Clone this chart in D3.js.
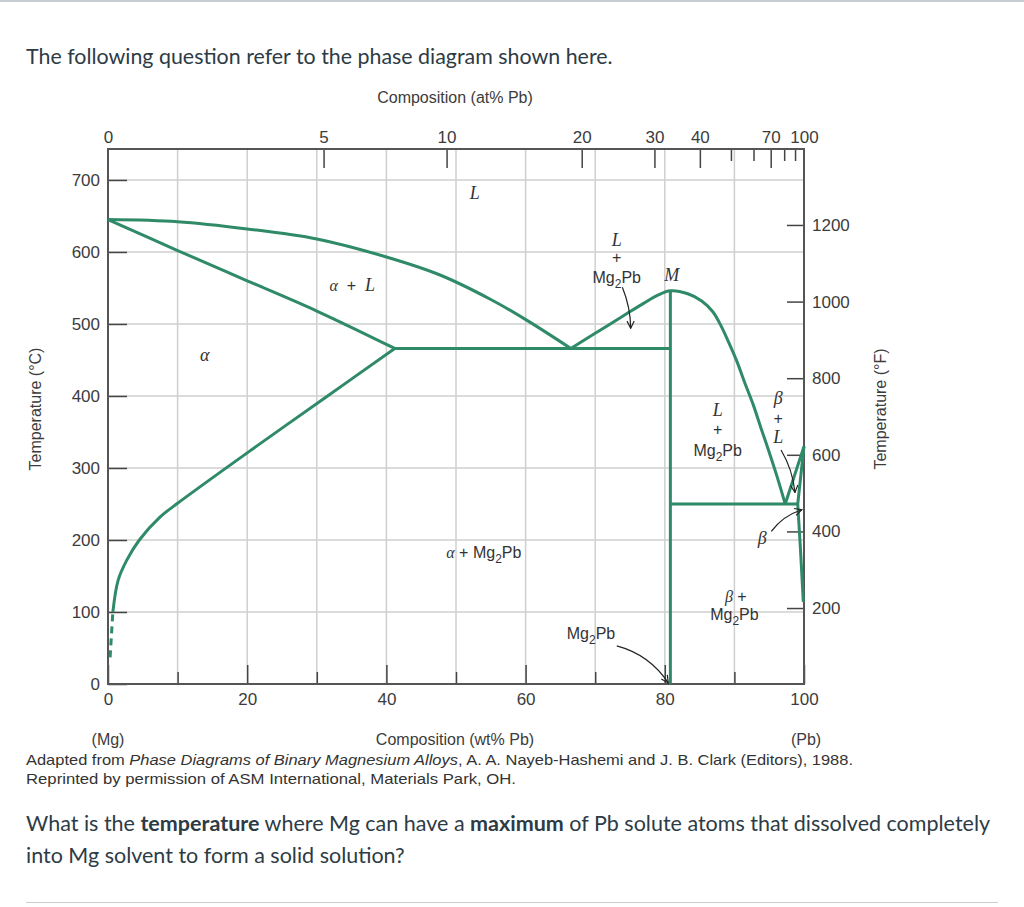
<!DOCTYPE html>
<html>
<head>
<meta charset="utf-8">
<script src="https://cdn.jsdelivr.net/npm/d3@7"></script>
<style>
body { margin: 0; background: #fff; }
</style>
</head>
<body>
<div class="container"></div>
<script>
const WIDTH = 1024;
const HEIGHT = 907;
const GREEN = "#2f8a68";
const INK = "#3c3c3c";
const CHART_FONT = "'Liberation Sans', Arial, sans-serif";
const SERIF = "'Liberation Serif', 'DejaVu Serif', serif";

// phase boundaries, [wt% Pb, temperature °C]
var liquidusMg = [[0, 645], [10, 642], [20, 632], [30, 618], [40, 593], [47.7, 568], [55, 534], [60.2, 505], [66.5, 466]];
var solidusMg = [[0, 645], [10, 602], [20, 560], [30, 518], [41.2, 466]];
var solvusMg = [[0.7, 100], [1.45, 144], [2.7, 172], [4.5, 200], [7.5, 232], [10, 251], [20, 321], [31.4, 399], [41.2, 466]];
var solvusMgDashed = [[0.3, 37], [0.7, 100]];
var liquidusMg2Pb = [[66.5, 466], [70, 487], [74, 511], [77, 529], [79, 540], [80.8, 546], [83.3, 542], [85.3, 532], [86.9, 517], [88.1, 497], [89.2, 474], [90.4, 447], [91.5, 418], [92.7, 388], [93.8, 356], [95, 322], [96.1, 289], [97.3, 250]];
var compoundMg2Pb = [[80.8, 0], [80.8, 546]];
var eutecticMg = [[41.2, 466], [80.8, 466]];
var eutecticPb = [[80.8, 250], [99.1, 250]];
var liquidusPb = [[97.3, 250], [100, 330]];
var solidusPb = [[100, 330], [99.1, 250]];
var solvusPb = [[99.1, 250], [99.5, 186], [99.9, 114]];

// axes
var tempTicksC = [0, 100, 200, 300, 400, 500, 600, 700];
var gridTemps = [100, 200, 300, 400, 500, 600, 700];
var wtMajor = [0, 20, 40, 60, 80, 100];
var wtMinor = [10, 30, 50, 70, 90];
var gridWt = [10, 20, 30, 40, 50, 60, 70, 80, 90];
var atLabels = [0, 5, 10, 20, 30, 40, 70, 100];
var atShort = [50, 60, 80, 90];
var fTicks = [200, 400, 600, 800, 1000, 1200];
var fCalib = [200, 1200];       // °F ticks as placed on the printed figure
var fCalibC = [105.5, 637.5];   // ... and the °C heights they sit at

var svg, x, y, xAt, yF;

var atToWt = function(a){
	var pb = a * 207.2, mg = (100 - a) * 24.305;
	return 100 * pb / (pb + mg);
}

var loadChart = function(){
	svg = d3.select(".container").append("svg")
		.attr("width", WIDTH)
		.attr("height", HEIGHT);

	x = d3.scaleLinear().domain([0, 100]).range([108, 804]);
	y = d3.scaleLinear().domain([0, 743]).range([684, 149]);
	var atGrid = d3.range(0, 101);
	xAt = d3.scaleLinear().domain(atGrid).range(atGrid.map(function(a){ return x(atToWt(a)); }));
	yF = d3.scaleLinear().domain(fCalib).range(fCalibC.map(y));

	drawPage();
	drawGrid();
	drawAxes();
	drawPhases();
	drawLabels();
	drawArrows();
}

var drawPage = function(){
	svg.append("rect").attr("x", 0).attr("y", 0).attr("width", WIDTH).attr("height", 2).attr("fill", "#c7cdd1");
	svg.append("rect").attr("x", 26).attr("y", 902).attr("width", 972).attr("height", 1).attr("fill", "#c7cdd1");

	svg.append("text")
		.attr("x", 26).attr("y", 64)
		.style("font-family", "Lato, sans-serif").style("font-size", "21.4px").attr("fill", "#2d3b45")
		.text("The following question refer to the phase diagram shown here.");

	var q1 = svg.append("text")
		.attr("x", 26).attr("y", 831)
		.style("font-family", "Lato, sans-serif").style("font-size", "21.5px").attr("fill", "#2d3b45");
	q1.append("tspan").text("What is the ");
	q1.append("tspan").style("font-weight", "bold").text("temperature");
	q1.append("tspan").text(" where Mg can have a ");
	q1.append("tspan").style("font-weight", "bold").text("maximum");
	q1.append("tspan").text(" of Pb solute atoms that dissolved completely");

	svg.append("text")
		.attr("x", 26).attr("y", 863)
		.style("font-family", "Lato, sans-serif").style("font-size", "21.5px").attr("fill", "#2d3b45")
		.text("into Mg solvent to form a solid solution?");

	var c1 = svg.append("text")
		.attr("x", 26).attr("y", 765)
		.attr("textLength", 827).attr("lengthAdjust", "spacingAndGlyphs")
		.style("font-family", CHART_FONT).style("font-size", "15px").attr("fill", "#333");
	c1.append("tspan").text("Adapted from ");
	c1.append("tspan").style("font-style", "italic").text("Phase Diagrams of Binary Magnesium Alloys");
	c1.append("tspan").text(", A. A. Nayeb-Hashemi and J. B. Clark (Editors), 1988.");

	svg.append("text")
		.attr("x", 26).attr("y", 784)
		.attr("textLength", 490).attr("lengthAdjust", "spacingAndGlyphs")
		.style("font-family", CHART_FONT).style("font-size", "15px").attr("fill", "#333")
		.text("Reprinted by permission of ASM International, Materials Park, OH.");
}

var drawGrid = function(){
	var grid = svg.append("g").attr("stroke", "#cfcfcf").attr("stroke-width", 1.5);
	grid.selectAll(".gv").data(gridWt).enter().append("line")
		.attr("x1", function(d){ return x(d); }).attr("x2", function(d){ return x(d); })
		.attr("y1", y(743)).attr("y2", y(0));
	grid.selectAll(".gh").data(gridTemps).enter().append("line")
		.attr("x1", x(0)).attr("x2", x(100))
		.attr("y1", function(d){ return y(d); }).attr("y2", function(d){ return y(d); });
}

var styleAxis = function(g){
	g.select(".domain").remove();
	g.selectAll(".tick line").attr("stroke", "#444").attr("stroke-width", 1.5);
	g.selectAll(".tick text").attr("fill", INK).style("font-family", CHART_FONT).style("font-size", "17px");
}

var drawAxes = function(){
	svg.append("g").attr("transform", "translate(" + x(0) + ",0)")
		.call(d3.axisLeft(y).tickValues(tempTicksC).tickSize(-19).tickPadding(8))
		.call(styleAxis);

	svg.append("g").attr("transform", "translate(0," + y(0) + ")")
		.call(d3.axisBottom(x).tickValues(wtMajor).tickSize(-19).tickPadding(9))
		.call(styleAxis);
	svg.append("g").attr("transform", "translate(0," + y(0) + ")")
		.call(d3.axisBottom(x).tickValues(wtMinor).tickSize(-12).tickFormat(""))
		.call(styleAxis);

	var top = svg.append("g").attr("transform", "translate(0," + y(743) + ")")
		.call(d3.axisTop(xAt).tickValues(atLabels).tickSize(-19).tickPadding(6))
		.call(styleAxis);
	top.selectAll(".tick").filter(function(d){ return d === 0 || d === 100; }).select("line").remove();
	svg.append("g").attr("transform", "translate(0," + y(743) + ")")
		.call(d3.axisTop(xAt).tickValues(atShort).tickSize(-12).tickFormat(""))
		.call(styleAxis);

	svg.append("g").attr("transform", "translate(" + x(100) + ",0)")
		.call(d3.axisRight(yF).tickValues(fTicks).tickSize(-17).tickPadding(8).tickFormat(d3.format("d")))
		.call(styleAxis);

	svg.append("rect")
		.attr("x", x(0)).attr("y", y(743))
		.attr("width", x(100) - x(0)).attr("height", y(0) - y(743))
		.attr("fill", "none").attr("stroke", "#555").attr("stroke-width", 2);

	// axis titles
	svg.append("text").attr("x", 455).attr("y", 103).attr("text-anchor", "middle")
		.style("font-family", CHART_FONT).style("font-size", "16px").attr("fill", INK)
		.text("Composition (at% Pb)");
	svg.append("text").attr("x", 455).attr("y", 745).attr("text-anchor", "middle")
		.style("font-family", CHART_FONT).style("font-size", "16px").attr("fill", INK)
		.text("Composition (wt% Pb)");
	svg.append("text").attr("x", 108).attr("y", 745).attr("text-anchor", "middle")
		.style("font-family", CHART_FONT).style("font-size", "16px").attr("fill", INK)
		.text("(Mg)");
	svg.append("text").attr("x", 806).attr("y", 745).attr("text-anchor", "middle")
		.style("font-family", CHART_FONT).style("font-size", "16px").attr("fill", INK)
		.text("(Pb)");
	svg.append("text").attr("transform", "translate(41,409) rotate(-90)").attr("text-anchor", "middle")
		.style("font-family", CHART_FONT).style("font-size", "16px").attr("fill", INK)
		.text("Temperature (°C)");
	svg.append("text").attr("transform", "translate(886,409) rotate(-90)").attr("text-anchor", "middle")
		.style("font-family", CHART_FONT).style("font-size", "16px").attr("fill", INK)
		.text("Temperature (°F)");
}

var drawPhases = function(){
	var smooth = d3.line().x(function(d){ return x(d[0]); }).y(function(d){ return y(d[1]); }).curve(d3.curveCatmullRom.alpha(0.5));
	var straight = d3.line().x(function(d){ return x(d[0]); }).y(function(d){ return y(d[1]); });
	var g = svg.append("g").attr("fill", "none").attr("stroke", GREEN).attr("stroke-width", 3).attr("stroke-linejoin", "round");

	[liquidusMg, solidusMg, solvusMg, liquidusMg2Pb].forEach(function(pts){
		g.append("path").attr("d", smooth(pts));
	});
	[compoundMg2Pb, eutecticMg, eutecticPb, liquidusPb, solidusPb, solvusPb].forEach(function(pts){
		g.append("path").attr("d", straight(pts));
	});
	g.append("path").attr("d", straight(solvusMgDashed)).attr("stroke-dasharray", "7,5");
}

var addMg2Pb = function(t){
	t.append("tspan").text("Mg");
	t.append("tspan").attr("dy", 5).style("font-size", "12px").text("2");
	t.append("tspan").attr("dy", -5).text("Pb");
}

var drawLabels = function(){
	var serif = function(wt, temp, txt){
		svg.append("text").attr("x", x(wt)).attr("y", y(temp)).attr("dy", "0.35em").attr("text-anchor", "middle")
			.style("font-family", SERIF).style("font-style", "italic").style("font-size", "18px").attr("fill", "#333")
			.text(txt);
	};
	var plain = function(wt, temp, txt){
		return svg.append("text").attr("x", x(wt)).attr("y", y(temp)).attr("dy", "0.35em").attr("text-anchor", "middle")
			.style("font-family", CHART_FONT).style("font-size", "16px").attr("fill", "#333")
			.text(txt);
	};

	serif(52.7, 683, "L");
	var al = svg.append("text").attr("x", x(35.1)).attr("y", y(554)).attr("dy", "0.35em").attr("text-anchor", "middle")
		.style("font-size", "16px").attr("fill", "#333").attr("xml:space", "preserve");
	al.append("tspan").style("font-family", SERIF).style("font-style", "italic").text("α");
	al.append("tspan").style("font-family", CHART_FONT).text("  +  ");
	al.append("tspan").style("font-family", SERIF).style("font-style", "italic").style("font-size", "18px").text("L");
	serif(13.9, 457, "α");

	serif(73.1, 617, "L");
	plain(73.1, 592, "+");
	addMg2Pb(plain(73.1, 565, ""));
	serif(81, 569, "M");

	serif(87.6, 381, "L");
	plain(87.6, 353, "+");
	addMg2Pb(plain(87.6, 324, ""));

	serif(96.3, 398, "β");
	plain(96.3, 369, "+");
	serif(96.3, 343, "L");
	serif(94, 203, "β");

	var am = svg.append("text").attr("x", x(54)).attr("y", y(183)).attr("dy", "0.35em").attr("text-anchor", "middle")
		.style("font-family", CHART_FONT).style("font-size", "16px").attr("fill", "#333");
	am.append("tspan").style("font-family", SERIF).style("font-style", "italic").text("α");
	am.append("tspan").text(" + ");
	addMg2Pb(am);

	var bp = svg.append("text").attr("x", x(90.2)).attr("y", y(122)).attr("dy", "0.35em").attr("text-anchor", "middle")
		.style("font-family", CHART_FONT).style("font-size", "16px").attr("fill", "#333");
	bp.append("tspan").style("font-family", SERIF).style("font-style", "italic").text("β");
	bp.append("tspan").text(" +");
	addMg2Pb(plain(90, 97, ""));

	addMg2Pb(plain(69.4, 70, ""));
}

var drawArrows = function(){
	svg.append("defs").append("marker")
		.attr("id", "head").attr("viewBox", "0 0 10 10").attr("refX", 9).attr("refY", 5)
		.attr("markerWidth", 9).attr("markerHeight", 9).attr("markerUnits", "userSpaceOnUse").attr("orient", "auto")
		.append("path").attr("d", "M1,1 L9,5 L1,9").attr("fill", "none").attr("stroke", "#222").attr("stroke-width", 1.3);

	// [from wt, from °C, to wt, to °C, bend px]
	var arrows = [
		[73.9, 551, 75.1, 494, 4],
		[73.1, 53, 80.5, 1.5, 12],
		[95.3, 212, 99.7, 242, 6],
		[96.7, 325, 98.7, 266, 5]
	];
	arrows.forEach(function(a){
		var x1 = x(a[0]), y1 = y(a[1]), x2 = x(a[2]), y2 = y(a[3]);
		var dx = x2 - x1, dy = y2 - y1, len = Math.sqrt(dx * dx + dy * dy);
		var cx = (x1 + x2) / 2 + a[4] * dy / len;
		var cy = (y1 + y2) / 2 - a[4] * dx / len;
		svg.append("path")
			.attr("d", "M" + x1 + "," + y1 + " Q" + cx + "," + cy + " " + x2 + "," + y2)
			.attr("fill", "none").attr("stroke", "#222").attr("stroke-width", 1.2)
			.attr("marker-end", "url(#head)");
	});
}

window.onload = loadChart;
</script>
</body>
</html>
